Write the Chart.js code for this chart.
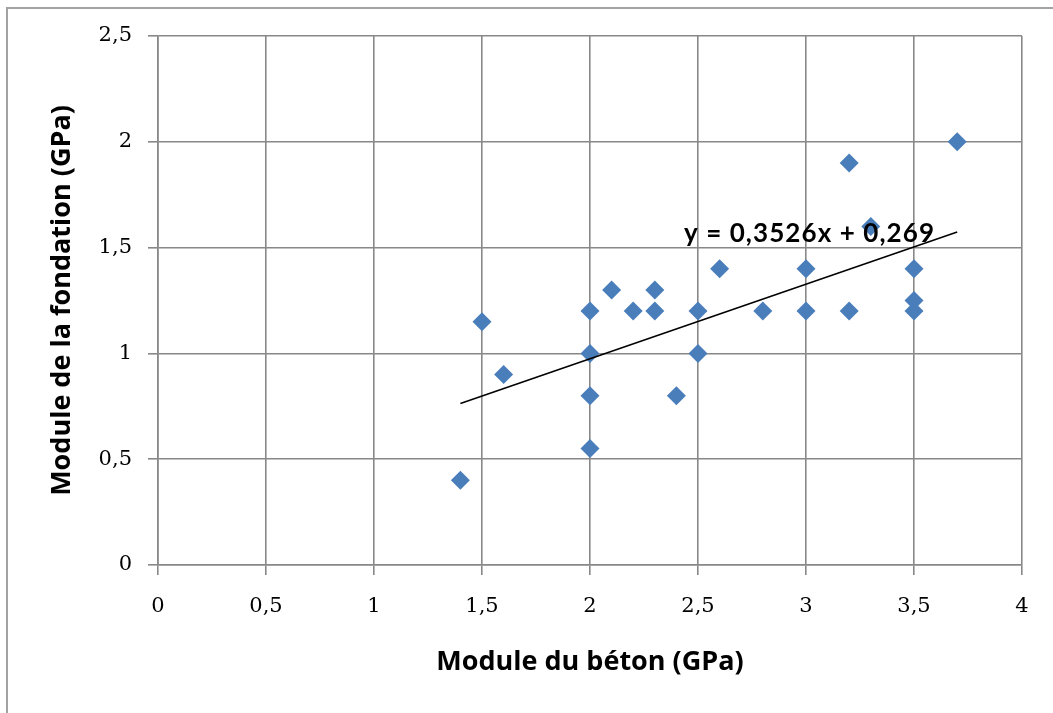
<!DOCTYPE html>
<html>
<head>
<meta charset="utf-8">
<script src="https://cdn.jsdelivr.net/npm/chart.js@4"></script>
<style>
  body { margin: 0; background: #fff; overflow: hidden; }
  #frame { position: absolute; left: 6px; top: 7px; width: 1100px; height: 800px; border: 2px solid #a3a3a3; }
  #chart { position: absolute; left: 0; top: 0; }
</style>
</head>
<body>
<div id="frame"></div>
<canvas id="chart" width="1053" height="713"></canvas>
<script>
// Measured points (module du béton, module de la fondation), GPa
const betonValues = [1.4, 1.5, 1.6, 2.0, 2.0, 2.0, 2.0, 2.1, 2.2, 2.3, 2.3, 2.4, 2.5, 2.5, 2.6, 2.8, 3.0, 3.0, 3.2, 3.2, 3.3, 3.5, 3.5, 3.5, 3.7];
const fondationValues = [0.4, 1.15, 0.9, 1.2, 1.0, 0.8, 0.55, 1.3, 1.2, 1.3, 1.2, 0.8, 1.2, 1.0, 1.4, 1.2, 1.4, 1.2, 1.9, 1.2, 1.6, 1.4, 1.25, 1.2, 2.0];

// Linear trend line end points (y = 0,3526x + 0,269)
const trendX = [1.4, 3.7];
const trendY = [0.763, 1.574];
const trendLabel = "y = 0,3526x + 0,269";

const xTickLabels = ["0", "0,5", "1", "1,5", "2", "2,5", "3", "3,5", "4"];
const yTickLabels = ["0", "0,5", "1", "1,5", "2", "2,5"];

const titleFont = { family: "'Open Sans', sans-serif", size: 27, weight: "bold" };
const tickFont = { family: "'DejaVu Serif', serif", size: 21 };
const gridStyle = { color: "#888888", lineWidth: 1.6, tickLength: 10, drawTicks: true };

// trend equation, written over the points like Excel does
const equationLabel = {
    id: "equationLabel",
    afterDatasetsDraw(chart) {
        const ctx = chart.ctx;
        const x = chart.scales.x.getPixelForValue(2.435);
        const y = chart.scales.y.getPixelForValue(1.525);
        ctx.save();
        ctx.font = "bold 26px Lato, 'Open Sans', sans-serif";
        const w = ctx.measureText(trendLabel).width;
        ctx.letterSpacing = Math.max(0, (250 - w) / (trendLabel.length - 1)) + "px";
        ctx.fillStyle = "#000";
        ctx.textBaseline = "alphabetic";
        ctx.fillText(trendLabel, x, y);
        ctx.restore();
    }
};

const points = betonValues.map((b, i) => ({ x: b, y: fondationValues[i] }));
const trendPoints = trendX.map((t, i) => ({ x: t, y: trendY[i] }));

new Chart(document.getElementById("chart"), {
    type: "scatter",
    data: {
        datasets: [
            {
                type: "line",
                data: trendPoints,
                borderColor: "#000",
                borderWidth: 1.5,
                pointRadius: 0,
                fill: false,
                order: 0
            },
            {
                data: points,
                pointStyle: "rectRot",
                pointRadius: 9.5,
                pointHoverRadius: 9.5,
                backgroundColor: "#4a7ebb",
                borderColor: "#4a7ebb",
                borderWidth: 0,
                order: 1
            }
        ]
    },
    options: {
        responsive: false,
        animation: false,
        layout: { padding: { left: 0, top: 36, right: 31, bottom: 0 } },
        plugins: { legend: { display: false }, tooltip: { enabled: false } },
        scales: {
            x: {
                type: "linear",
                min: 0,
                max: 4,
                grid: gridStyle,
                border: { color: "#888888", width: 1.6 },
                ticks: {
                    stepSize: 0.5,
                    color: "#000",
                    font: tickFont,
                    padding: 19,
                    maxRotation: 0,
                    callback: (v, i) => xTickLabels[i]
                },
                title: { display: true, text: "Module du béton (GPa)", color: "#000", font: titleFont, padding: { top: 0, bottom: 34 } },
                afterFit: (scale) => { scale.height = 713 - 565; }
            },
            y: {
                type: "linear",
                min: 0,
                max: 2.5,
                grid: gridStyle,
                border: { color: "#888888", width: 1.6 },
                ticks: {
                    stepSize: 0.5,
                    color: "#000",
                    font: tickFont,
                    padding: 16,
                    callback: (v, i) => yTickLabels[i]
                },
                title: { display: true, text: "Module de la fondation (GPa)", color: "#000", font: titleFont, padding: { top: 46, bottom: 0 } },
                afterFit: (scale) => { scale.width = 158; }
            }
        }
    },
    plugins: [equationLabel]
});
</script>
</body>
</html>
